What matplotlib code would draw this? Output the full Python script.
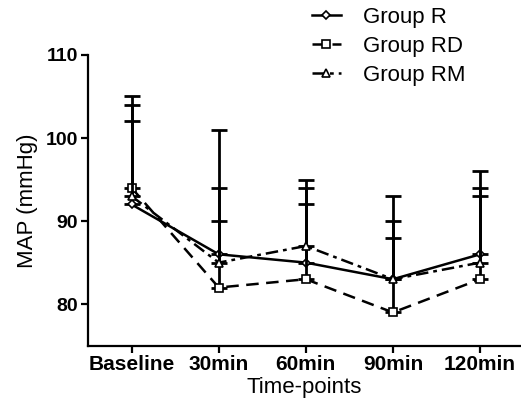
import numpy as np
import matplotlib
matplotlib.use("Agg")
import matplotlib.pyplot as plt

plt.rcParams["font.family"] = ["Liberation Sans", "DejaVu Sans"]

# values
timepoints = ["Baseline", "30min", "60min", "90min", "120min"]
map_r = [92, 86, 85, 83, 86]
map_rd = [94, 82, 83, 79, 83]
map_rm = [93, 85, 87, 83, 85]
# upper whiskers only (mean + SD)
sd_r = [10, 15, 10, 10, 10]
sd_rd = [11, 12, 11, 11, 11]
sd_rm = [11, 5, 5, 5, 8]

fig = plt.figure(figsize=(5.21, 4.13), dpi=100)
ax = fig.add_axes([0.169, 0.163, 0.831, 0.704])

x = np.arange(len(timepoints))

series = [
    ("Group R", map_r, sd_r, "-", "D", 4.5),
    ("Group RD", map_rd, sd_rd, (0, (5, 3)), "s", 5.5),
    ("Group RM", map_rm, sd_rm, (0, (5, 2, 1.5, 2)), "^", 6),
]

for name, vals, sd, ls, mk, ms in series:
    ax.errorbar(
        x, vals, yerr=[np.zeros(len(sd)), sd],
        fmt="none", ecolor="black", elinewidth=2, capsize=6, capthick=2,
    )
    ax.plot(
        x, vals, linestyle=ls, color="black", lw=1.8, marker=mk, ms=ms,
        markerfacecolor="white", markeredgecolor="black", markeredgewidth=1.2,
        label=name,
    )

ax.set_xlim(-0.5, 4.47)
ax.set_ylim(75, 110)
ax.set_yticks([80, 90, 100, 110])
ax.set_xticks(x)
ax.set_xticklabels(timepoints, fontsize=15, fontweight="bold")
for lab in ax.get_yticklabels():
    lab.set_fontsize(14)
    lab.set_fontweight("bold")

ax.spines["top"].set_visible(False)
ax.spines["right"].set_visible(False)
ax.spines["left"].set_linewidth(1.6)
ax.spines["bottom"].set_linewidth(1.6)
ax.tick_params(width=1.6, length=5, pad=2)

ax.set_xlabel("Time-points", fontsize=16, labelpad=2)
ax.set_ylabel("MAP (mmHg)", fontsize=16, labelpad=6)

fig.legend(
    loc="upper left", bbox_to_anchor=(312 / 521, 1 - 7 / 413), frameon=False,
    fontsize=16, handlelength=1.3, handletextpad=1.0, labelspacing=0.35,
    borderaxespad=0, borderpad=0,
)

fig.savefig("out.png", dpi=100)
